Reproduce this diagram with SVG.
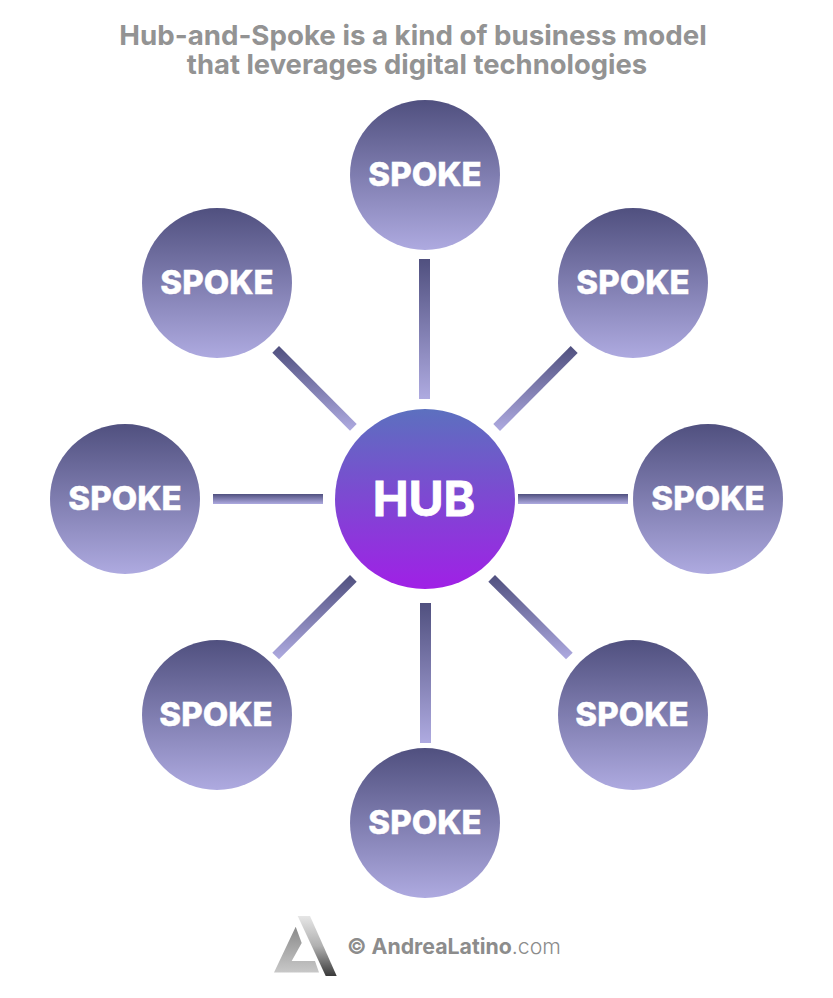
<svg xmlns="http://www.w3.org/2000/svg" width="833" height="998" viewBox="0 0 833 998">
<style>
text{font-family:Inter,"Liberation Sans",Arial,sans-serif;font-weight:700;text-anchor:middle}
.title{font-size:27.7px;fill:#939393}
.spoke{fill:url(#g)}
.st{font-size:33px;font-weight:800;fill:#fff;stroke:#fff;stroke-width:.4px}
.c{fill:url(#g)}
</style>
<defs>
<linearGradient id="g" x1="0" y1="0" x2="0" y2="1"><stop offset="0" stop-color="#50507f"/><stop offset="1" stop-color="#aeaae0"/></linearGradient>
<linearGradient id="h" x1="0" y1="0" x2="0" y2="1"><stop offset="0" stop-color="#5c70bf"/><stop offset="1" stop-color="#a020e6"/></linearGradient>
<linearGradient id="l1" x1="0" y1="0" x2="0" y2="1"><stop offset="0" stop-color="#e6e6e6"/><stop offset=".5" stop-color="#b0b0b0"/><stop offset="1" stop-color="#3a3a3a"/></linearGradient>
<linearGradient id="l2" x1="0" y1="0" x2="0" y2="1"><stop offset="0" stop-color="#8a8a8a"/><stop offset="1" stop-color="#c8c8c8"/></linearGradient>
</defs>
<text class="title" x="413" y="45">Hub-and-Spoke is a kind of business model</text>
<text class="title" x="417" y="74" style="font-size:27.4px">that leverages digital technologies</text>
<g id="connectors">
<rect class="c" x="419" y="259" width="11" height="140"/>
<rect class="c" x="420" y="603" width="11" height="140"/>
<rect class="c" x="213" y="494" width="110" height="10"/>
<rect class="c" x="518" y="494" width="110" height="10"/>
<polygon class="c" points="272.3,352.7 279,346 356.7,424 350,430.7"/>
<polygon class="c" points="570.7,346 577.7,353 500,431 493.3,424"/>
<polygon class="c" points="350,575 356.7,581.7 279,659.3 272.3,652.7"/>
<polygon class="c" points="495,575 488.3,581.7 566,659.3 572.7,652.7"/>
</g>
<g id="hub"><circle cx="425" cy="499" r="90" fill="url(#h)"/><text x="424" y="516" font-size="48" font-weight="800" fill="#fff" stroke="#fff" stroke-width=".8">HUB</text></g>
<g id="spoke-n"><circle class="spoke" cx="425" cy="175" r="75"/><text class="st" x="425" y="186">SPOKE</text></g>
<g id="spoke-nw"><circle class="spoke" cx="217" cy="283" r="75"/><text class="st" x="217" y="294">SPOKE</text></g>
<g id="spoke-ne"><circle class="spoke" cx="633" cy="283" r="75"/><text class="st" x="633" y="294">SPOKE</text></g>
<g id="spoke-w"><circle class="spoke" cx="125" cy="499" r="75"/><text class="st" x="125" y="510">SPOKE</text></g>
<g id="spoke-e"><circle class="spoke" cx="708" cy="499" r="75"/><text class="st" x="708" y="510">SPOKE</text></g>
<g id="spoke-sw"><circle class="spoke" cx="217" cy="715" r="75"/><text class="st" x="216" y="726">SPOKE</text></g>
<g id="spoke-se"><circle class="spoke" cx="633" cy="715" r="75"/><text class="st" x="632" y="726">SPOKE</text></g>
<g id="spoke-s"><circle class="spoke" cx="425" cy="823" r="75"/><text class="st" x="425" y="834">SPOKE</text></g>
<g id="logo">
<polygon fill="url(#l1)" points="297.7,916 310,916 336.7,976 325.7,976"/>
<polygon fill="url(#l2)" points="295.7,926.7 301.7,943 291.7,961 315,961 319,972.5 274,972.5"/>
<text x="347" y="954" font-size="21.3" fill="#8c8c8c" style="text-anchor:start">© AndreaLatino<tspan font-weight="300">.com</tspan></text>
</g>
</svg>
